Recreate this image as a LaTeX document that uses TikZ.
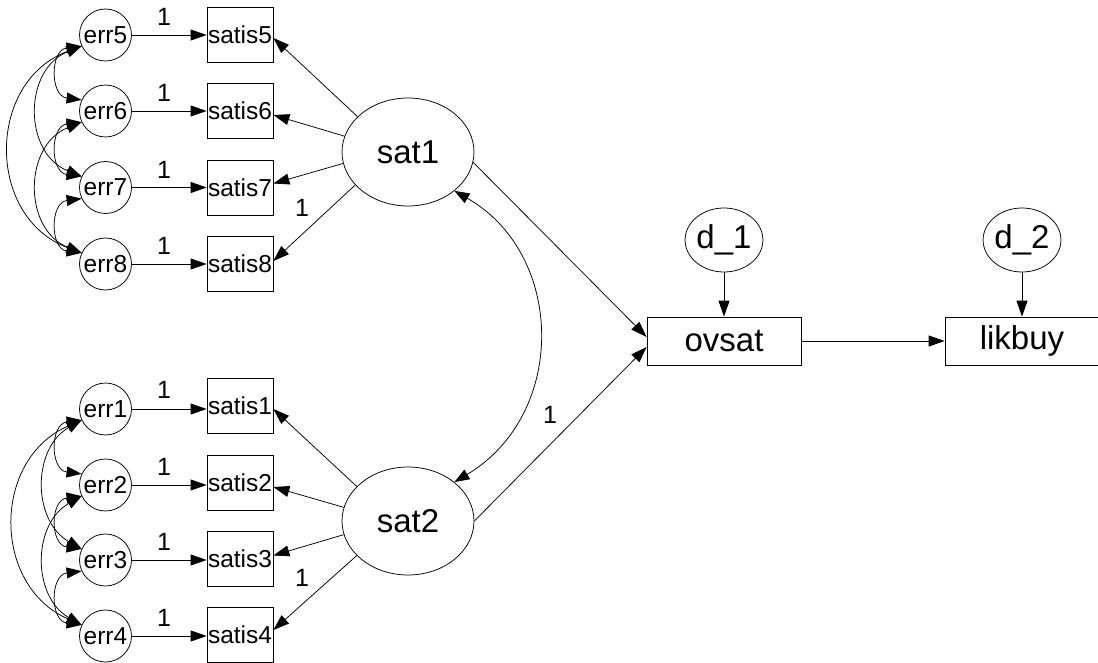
\documentclass[tikz,border=0pt]{standalone}
\usepackage{fontspec}
\setmainfont{Liberation Sans}
\usetikzlibrary{shapes.geometric,arrows.meta}
\begin{document}
\begin{tikzpicture}[x=1pt,y=1pt,
  every node/.style={inner sep=0pt},
  line/.style={draw=black, line width=0.75pt},
  arr/.style={line, -{Triangle[length=16pt,width=11pt]}},
  cov/.style={line, {Triangle[length=15pt,width=11pt]}-{Triangle[length=15pt,width=11pt]}},
  errc/.style={circle, draw, line width=0.75pt, minimum size=52pt, font=\fontsize{24.5}{24.5}\selectfont},
  obs/.style={rectangle, draw, line width=0.75pt, minimum width=66pt, minimum height=55pt, font=\fontsize{24.5}{24.5}\selectfont},
  latent/.style={ellipse, draw, line width=0.75pt, minimum width=132pt, minimum height=108pt, font=\fontsize{33}{33}\selectfont},
  dist/.style={ellipse, draw, line width=0.75pt, minimum width=76pt, minimum height=64pt, font=\fontsize{33}{33}\selectfont},
  bigbox/.style={rectangle, draw, line width=0.75pt, minimum width=154pt, minimum height=48pt, font=\fontsize{33}{33}\selectfont},
  lab/.style={font=\fontsize{25}{25}\selectfont}
]
\useasboundingbox (0,0) rectangle (1098,-663);

% error terms and indicators, upper group
\node[errc] (e5) at (105.5,-35) {err5};
\node[errc] (e6) at (105.5,-111) {err6};
\node[errc] (e7) at (105.5,-187.5) {err7};
\node[errc] (e8) at (105.5,-264) {err8};
\node[obs] (s5) at (240,-35) {satis5};
\node[obs] (s6) at (240,-111) {satis6};
\node[obs] (s7) at (240,-187.5) {satis7};
\node[obs] (s8) at (240,-264) {satis8};
% lower group
\node[errc] (e1) at (105.5,-409) {err1};
\node[errc] (e2) at (105.5,-485) {err2};
\node[errc] (e3) at (105.5,-560) {err3};
\node[errc] (e4) at (105.5,-636) {err4};
\node[obs] (s1) at (240,-406) {satis1};
\node[obs] (s2) at (240,-483) {satis2};
\node[obs] (s3) at (240,-558.5) {satis3};
\node[obs] (s4) at (240,-635) {satis4};

% latent variables
\node[latent] (sat1) at (408,-152) {sat1};
\node[latent] (sat2) at (408,-521) {sat2};
\node[bigbox] (ov) at (724,-341) {ovsat};
\node[bigbox] (lk) at (1022,-341) {likbuy};
\node[dist] (d1) at (724,-240) {d\_1};
\node[dist] (d2) at (1022,-240) {d\_2};

% error -> indicator
\foreach \i in {1,...,8} {\draw[arr] (e\i) -- (e\i -| s\i.west);}
\node[lab] (l5) at (164,-17) {1};
\node[lab] (l6) at (164,-93) {1};
\node[lab] (l7) at (164,-169.5) {1};
\node[lab] (l8) at (164,-246) {1};
\node[lab] (l1) at (164,-390) {1};
\node[lab] (l2) at (164,-467) {1};
\node[lab] (l3) at (164,-542) {1};
\node[lab] (l4) at (164,-618) {1};

% loadings
\draw[arr] (sat1.145) -- ([yshift=-3pt]s5.east);
\draw[arr] (sat1.166) -- ([yshift=-4pt]s6.east);
\draw[arr] (sat1.190) -- ([yshift=4pt]s7.east);
\draw[arr] (sat1.212) -- ([yshift=3pt]s8.east);
\node[lab] (l9) at (302,-208) {1};
\draw[arr] (sat2.146) -- ([yshift=-3pt]s1.east);
\draw[arr] (sat2.168) -- ([yshift=-4pt]s2.east);
\draw[arr] (sat2.192) -- ([yshift=3pt]s3.east);
\draw[arr] (sat2.214) -- ([yshift=5pt]s4.east);
\node[lab] (l10) at (302,-578) {1};

% structural paths
\draw[arr] (sat1.-9) -- ([yshift=4pt]ov.west);
\draw[arr] (sat2.0) -- ([yshift=-6pt]ov.west);
\node[lab] (l11) at (550,-415) {1};
\draw[arr] (d1) -- (ov);
\draw[arr] (d2) -- (lk);
\draw[arr] (ov) -- (lk);
\draw[cov] (sat1.-40) .. controls (565,-254) and (568,-414) .. (sat2.40);

% covariances upper group
\draw[cov] (e5.205) .. controls +(187:32) and +(173:32) .. (e6.155);
\draw[cov] (e6.205) .. controls +(187:32) and +(173:32) .. (e7.155);
\draw[cov] (e7.205) .. controls +(187:32) and +(173:32) .. (e8.155);
\draw[cov] (e5.205) .. controls +(201.8:63) and +(158.2:63) .. (e7.155);
\draw[cov] (e6.205) .. controls +(201.8:63) and +(158.2:63) .. (e8.155);
\draw[cov] (e5.205) .. controls +(200.4:102) and +(159.6:102) .. (e8.155);
% covariances lower group
\draw[cov] (e1.205) .. controls +(187:32) and +(173:32) .. (e2.155);
\draw[cov] (e2.205) .. controls +(187:32) and +(173:32) .. (e3.155);
\draw[cov] (e3.205) .. controls +(187:32) and +(173:32) .. (e4.155);
\draw[cov] (e1.205) .. controls +(209.7:57) and +(150.3:57) .. (e3.155);
\draw[cov] (e2.205) .. controls +(209.7:57) and +(150.3:57) .. (e4.155);
\draw[cov] (e1.205) .. controls +(203.6:98) and +(156.4:98) .. (e4.155);
\end{tikzpicture}
\end{document}
